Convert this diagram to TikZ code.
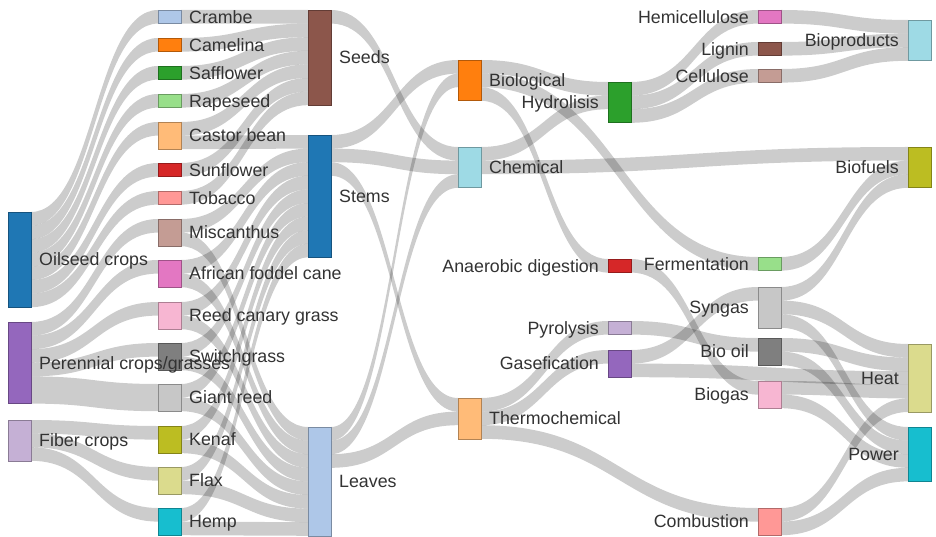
\documentclass[tikz,border=0pt]{standalone}
\usepackage{fontspec}
\setmainfont{Liberation Sans}
\usetikzlibrary{calc}
\pgfdeclarelayer{bg}
\pgfsetlayers{bg,main}
\definecolor{dblue}{HTML}{1F77B4}
\definecolor{dlblue}{HTML}{AEC7E8}
\definecolor{dorange}{HTML}{FF7F0E}
\definecolor{dlorange}{HTML}{FFBB78}
\definecolor{dgreen}{HTML}{2CA02C}
\definecolor{dlgreen}{HTML}{98DF8A}
\definecolor{dred}{HTML}{D62728}
\definecolor{dlred}{HTML}{FF9896}
\definecolor{dpurple}{HTML}{9467BD}
\definecolor{dlpurple}{HTML}{C5B0D5}
\definecolor{dbrown}{HTML}{8C564B}
\definecolor{dlbrown}{HTML}{C49C94}
\definecolor{dpink}{HTML}{E377C2}
\definecolor{dlpink}{HTML}{F7B6D2}
\definecolor{dgray}{HTML}{7F7F7F}
\definecolor{dlgray}{HTML}{C7C7C7}
\definecolor{dolive}{HTML}{BCBD22}
\definecolor{dlolive}{HTML}{DBDB8D}
\definecolor{dcyan}{HTML}{17BECF}
\definecolor{dlcyan}{HTML}{9EDAE5}
\definecolor{txt}{HTML}{333333}
% link band: source node, source offset (units), target node, target offset (units), width (units)
\newcommand{\sklink}[5]{%
  \fill[lnk] let \p1=($(#1.north east)+(0,-#2*13.6)$),
                 \p2=($(#3.north west)+(0,-#4*13.6)$),
                 \n1={0.5*(\x1+\x2)}, \n2={#5*13.6} in
    (\p1) .. controls (\n1,\y1) and (\n1,\y2) .. (\p2)
    -- (\x2,\y2-\n2) .. controls (\n1,\y2-\n2) and (\n1,\y1-\n2) .. (\x1,\y1-\n2) -- cycle;}
\begin{document}
\begin{tikzpicture}[x=1pt,y=1pt,
  lnk/.style={fill=black, fill opacity=0.2},
  nd/.style={draw=#1!70!black, fill=#1, line width=0.6pt, minimum width=23pt,
             inner sep=0pt, outer sep=0pt, anchor=north west},
  lbase/.style={text=txt, font=\fontsize{17.8}{20}\selectfont, inner sep=0pt,
             text height=12.7pt, text depth=0pt},
  lbr/.style={lbase, anchor=west},
  lbl/.style={lbase, anchor=east}]
\useasboundingbox (0,0) rectangle (936,-537);
% column 0
\node[nd=dblue,    minimum height=95.2pt] (oil) at (8,-212) {};
\node[nd=dpurple,  minimum height=81.6pt] (per) at (8,-322) {};
\node[nd=dlpurple, minimum height=40.8pt] (fib) at (8,-420) {};
% column 1
\node[nd=dlblue,   minimum height=13.6pt] (cra) at (158,-10) {};
\node[nd=dorange,  minimum height=13.6pt] (cam) at (158,-38) {};
\node[nd=dgreen,   minimum height=13.6pt] (saf) at (158,-66) {};
\node[nd=dlgreen,  minimum height=13.6pt] (rap) at (158,-94) {};
\node[nd=dlorange, minimum height=27.2pt] (cas) at (158,-122) {};
\node[nd=dred,     minimum height=13.6pt] (sun) at (158,-163) {};
\node[nd=dlred,    minimum height=13.6pt] (tob) at (158,-191) {};
\node[nd=dlbrown,  minimum height=27.2pt] (mis) at (158,-219) {};
\node[nd=dpink,    minimum height=27.2pt] (afr) at (158,-260) {};
\node[nd=dlpink,   minimum height=27.2pt] (rcg) at (158,-302) {};
\node[nd=dgray,    minimum height=27.2pt] (swi) at (158,-343) {};
\node[nd=dlgray,   minimum height=27.2pt] (gia) at (158,-384) {};
\node[nd=dolive,   minimum height=27.2pt] (ken) at (158,-426) {};
\node[nd=dlolive,  minimum height=27.2pt] (fla) at (158,-467) {};
\node[nd=dcyan,    minimum height=27.2pt] (hem) at (158,-508) {};
% column 2
\node[nd=dbrown,   minimum height=95.2pt]  (see) at (308,-10) {};
\node[nd=dblue,    minimum height=122.4pt] (ste) at (308,-135) {};
\node[nd=dlblue,   minimum height=108.8pt] (lea) at (308,-427) {};
% column 3
\node[nd=dorange,  minimum height=40.8pt] (bio) at (458,-60) {};
\node[nd=dlcyan,   minimum height=40.8pt] (che) at (458,-147) {};
\node[nd=dlorange, minimum height=40.8pt] (the) at (458,-398) {};
% column 4
\node[nd=dgreen,   minimum height=40.8pt] (hyd) at (608,-82) {};
\node[nd=dred,     minimum height=13.6pt] (ana) at (608,-259) {};
\node[nd=dlpurple, minimum height=13.6pt] (pyr) at (608,-321) {};
\node[nd=dpurple,  minimum height=27.2pt] (gas) at (608,-350) {};
% column 5
\node[nd=dpink,    minimum height=13.6pt] (hemi) at (758,-10) {};
\node[nd=dbrown,   minimum height=13.6pt] (lig)  at (758,-42) {};
\node[nd=dlbrown,  minimum height=13.6pt] (cel)  at (758,-69) {};
\node[nd=dlgreen,  minimum height=13.6pt] (fer)  at (758,-257) {};
\node[nd=dlgray,   minimum height=40.8pt] (syn)  at (758,-287) {};
\node[nd=dgray,    minimum height=27.2pt] (boi)  at (758,-338) {};
\node[nd=dlpink,   minimum height=27.2pt] (bgs)  at (758,-381) {};
\node[nd=dlred,    minimum height=27.2pt] (com)  at (758,-508) {};
% column 6
\node[nd=dlcyan,   minimum height=40.8pt] (bpr) at (908,-20) {};
\node[nd=dolive,   minimum height=40.8pt] (bfu) at (908,-147) {};
\node[nd=dlolive,  minimum height=68pt]   (hea) at (908,-344) {};
\node[nd=dcyan,    minimum height=54.4pt] (pow) at (908,-427) {};
% links
\begin{pgfonlayer}{bg}
\path[fill=white] (0,0) rectangle (936,-537);
\sklink{oil}{0}{cra}{0}{1}
\sklink{oil}{1}{cam}{0}{1}
\sklink{oil}{2}{saf}{0}{1}
\sklink{oil}{3}{rap}{0}{1}
\sklink{oil}{4}{cas}{0}{1}
\sklink{oil}{5}{sun}{0}{1}
\sklink{oil}{6}{tob}{0}{1}
\sklink{per}{0}{mis}{0}{1}
\sklink{per}{1}{afr}{0}{1}
\sklink{per}{2}{rcg}{0}{1}
\sklink{per}{3}{swi}{0}{1}
\sklink{per}{4}{gia}{0}{2}
\sklink{fib}{0}{ken}{0}{1}
\sklink{fib}{1}{fla}{0}{1}
\sklink{fib}{2}{hem}{0}{1}
%
\sklink{cra}{0}{see}{0}{1}
\sklink{cam}{0}{see}{1}{1}
\sklink{saf}{0}{see}{2}{1}
\sklink{rap}{0}{see}{3}{1}
\sklink{cas}{0}{see}{4}{1}
\sklink{sun}{0}{see}{5}{1}
\sklink{tob}{0}{see}{6}{1}
\sklink{cas}{1}{ste}{0}{1}
\sklink{mis}{0}{ste}{1}{1}
\sklink{afr}{0}{ste}{2}{1}
\sklink{rcg}{0}{ste}{3}{1}
\sklink{swi}{0}{ste}{4}{1}
\sklink{gia}{0}{ste}{5}{1}
\sklink{ken}{0}{ste}{6}{1}
\sklink{fla}{0}{ste}{7}{1}
\sklink{hem}{0}{ste}{8}{1}
\sklink{mis}{1}{lea}{0}{1}
\sklink{afr}{1}{lea}{1}{1}
\sklink{rcg}{1}{lea}{2}{1}
\sklink{swi}{1}{lea}{3}{1}
\sklink{gia}{1}{lea}{4}{1}
\sklink{ken}{1}{lea}{5}{1}
\sklink{fla}{1}{lea}{6}{1}
\sklink{hem}{1}{lea}{7}{1}
%
\sklink{see}{0}{che}{0}{1}
\sklink{ste}{0}{bio}{0}{1}
\sklink{ste}{1}{che}{1}{1}
\sklink{ste}{2}{the}{0}{1}
\sklink{lea}{0}{bio}{1}{1}
\sklink{lea}{1}{che}{2}{1}
\sklink{lea}{2}{the}{1}{1}
%
\sklink{bio}{0}{hyd}{0}{1}
\sklink{bio}{1}{fer}{0}{1}
\sklink{bio}{2}{ana}{0}{1}
\sklink{che}{0}{hyd}{1}{1}
\sklink{che}{1}{bfu}{0}{1}
\sklink{the}{0}{pyr}{0}{1}
\sklink{the}{1}{gas}{0}{1}
\sklink{the}{2}{com}{0}{1}
%
\sklink{hyd}{0}{hemi}{0}{1}
\sklink{hyd}{1}{lig}{0}{1}
\sklink{hyd}{2}{cel}{0}{1}
\sklink{ana}{0}{bgs}{0}{1}
\sklink{pyr}{0}{boi}{0}{1}
\sklink{gas}{0}{syn}{0}{1}
\sklink{gas}{1}{hea}{2}{1}
%
\sklink{hemi}{0}{bpr}{0}{1}
\sklink{lig}{0}{bpr}{1}{1}
\sklink{cel}{0}{bpr}{2}{1}
\sklink{fer}{0}{bfu}{1}{1}
\sklink{syn}{0}{bfu}{2}{1}
\sklink{syn}{1}{hea}{0}{1}
\sklink{syn}{2}{pow}{0}{1}
\sklink{boi}{0}{hea}{1}{1}
\sklink{boi}{1}{pow}{1}{1}
\sklink{bgs}{0}{hea}{3}{1}
\sklink{bgs}{1}{pow}{2}{1}
\sklink{com}{0}{hea}{4}{1}
\sklink{com}{1}{pow}{3}{1}
\end{pgfonlayer}
% labels
\node[lbr] (Loil) at ($(oil.east)+(8,0)$) {Oilseed crops};
\node[lbr] (Lper) at ($(per.east)+(8,0)$) {Perennial crops/grasses};
\node[lbr] (Lfib) at ($(fib.east)+(8,0)$) {Fiber crops};
\node[lbr] (Lcra) at ($(cra.east)+(8,0)$) {Crambe};
\node[lbr] (Lcam) at ($(cam.east)+(8,0)$) {Camelina};
\node[lbr] (Lsaf) at ($(saf.east)+(8,0)$) {Safflower};
\node[lbr] (Lrap) at ($(rap.east)+(8,0)$) {Rapeseed};
\node[lbr] (Lcas) at ($(cas.east)+(8,0)$) {Castor bean};
\node[lbr] (Lsun) at ($(sun.east)+(8,0)$) {Sunflower};
\node[lbr] (Ltob) at ($(tob.east)+(8,0)$) {Tobacco};
\node[lbr] (Lmis) at ($(mis.east)+(8,0)$) {Miscanthus};
\node[lbr] (Lafr) at ($(afr.east)+(8,0)$) {African foddel cane};
\node[lbr] (Lrcg) at ($(rcg.east)+(8,0)$) {Reed canary grass};
\node[lbr] (Lswi) at ($(swi.east)+(8,0)$) {Switchgrass};
\node[lbr] (Lgia) at ($(gia.east)+(8,0)$) {Giant reed};
\node[lbr] (Lken) at ($(ken.east)+(8,0)$) {Kenaf};
\node[lbr] (Lfla) at ($(fla.east)+(8,0)$) {Flax};
\node[lbr] (Lhem) at ($(hem.east)+(8,0)$) {Hemp};
\node[lbr] (Lsee) at ($(see.east)+(8,0)$) {Seeds};
\node[lbr] (Lste) at ($(ste.east)+(8,0)$) {Stems};
\node[lbr] (Llea) at ($(lea.east)+(8,0)$) {Leaves};
\node[lbr] (Lbio) at ($(bio.east)+(8,0)$) {Biological};
\node[lbr] (Lche) at ($(che.east)+(8,0)$) {Chemical};
\node[lbr] (Lthe) at ($(the.east)+(8,0)$) {Thermochemical};
\node[lbl] (Lhyd) at ($(hyd.west)+(-9,0)$) {Hydrolisis};
\node[lbl] (Lana) at ($(ana.west)+(-9,0)$) {Anaerobic digestion};
\node[lbl] (Lpyr) at ($(pyr.west)+(-9,0)$) {Pyrolysis};
\node[lbl] (Lgas) at ($(gas.west)+(-9,0)$) {Gasefication};
\node[lbl] (Lhemi) at ($(hemi.west)+(-9,0)$) {Hemicellulose};
\node[lbl] (Llig) at ($(lig.west)+(-9,0)$) {Lignin};
\node[lbl] (Lcel) at ($(cel.west)+(-9,0)$) {Cellulose};
\node[lbl] (Lfer) at ($(fer.west)+(-9,0)$) {Fermentation};
\node[lbl] (Lsyn) at ($(syn.west)+(-9,0)$) {Syngas};
\node[lbl] (Lboi) at ($(boi.west)+(-9,0)$) {Bio oil};
\node[lbl] (Lbgs) at ($(bgs.west)+(-9,0)$) {Biogas};
\node[lbl] (Lcom) at ($(com.west)+(-9,0)$) {Combustion};
\node[lbl] (Lbpr) at ($(bpr.west)+(-9,0)$) {Bioproducts};
\node[lbl] (Lbfu) at ($(bfu.west)+(-9,0)$) {Biofuels};
\node[lbl] (Lhea) at ($(hea.west)+(-9,0)$) {Heat};
\node[lbl] (Lpow) at ($(pow.west)+(-9,0)$) {Power};
\end{tikzpicture}
\end{document}
